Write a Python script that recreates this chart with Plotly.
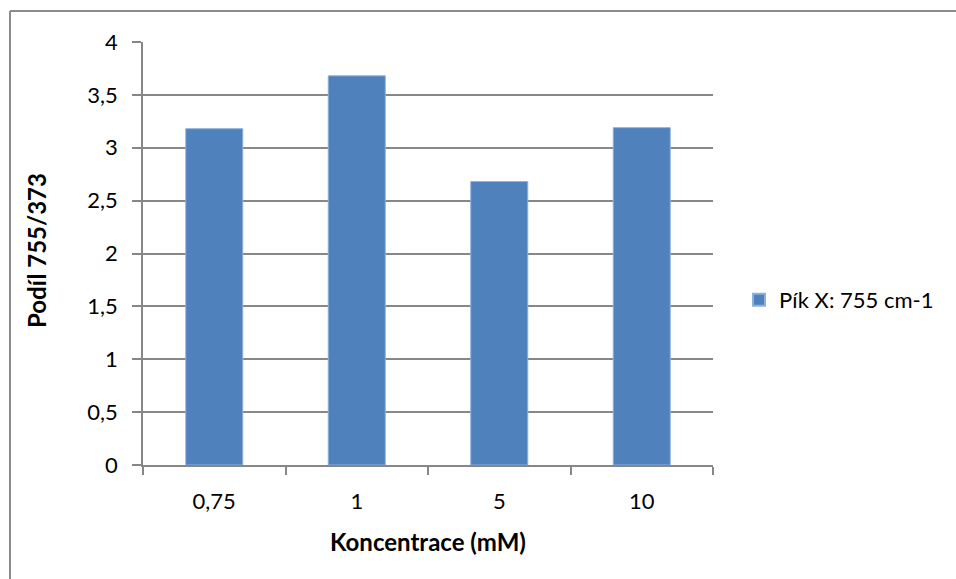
import plotly.graph_objects as go

categories = ["0,75", "1", "5", "10"]
values = [3.18, 3.68, 2.68, 3.19]
series_name = "Pík X: 755 cm-1"
y_ticks = [0, 0.5, 1, 1.5, 2, 2.5, 3, 3.5, 4]
x_title = "Koncentrace (mM)"
y_title = "Podíl 755/373"

FONT = "Lato"
GRID = "#878787"

fig = go.Figure()
fig.add_trace(go.Bar(
    x=categories, y=values, name=series_name,
    marker=dict(color="#4F81BD", line=dict(color="#8FB0DA", width=1)),
    showlegend=True,
))

L, R, T, B = 143, 243, 42, 114
W, H = 956, 579
pw, ph = W - L - R, H - T - B

def px_to_paper_x(px):
    return (px - L) / pw

def px_to_paper_y(py):
    return (H - B - py) / ph

bx = px_to_paper_x(10)
by = px_to_paper_y(11)

fig.update_layout(
    width=W, height=H,
    margin=dict(l=L, r=R, t=T, b=B, pad=0),
    paper_bgcolor="white", plot_bgcolor="white",
    separators=", ",
    bargap=0.6,
    font=dict(family=FONT, size=22, color="black"),
    showlegend=True,
    legend=dict(x=px_to_paper_x(739), y=px_to_paper_y(300), xanchor="left", yanchor="middle",
                font=dict(family=FONT, size=22, color="black"),
                itemsizing="constant", bgcolor="rgba(0,0,0,0)"),
    xaxis=dict(type="category", showline=True, linecolor=GRID, linewidth=1.5,
               ticks="outside", ticklen=8, tickcolor=GRID, tickwidth=1.5,
               tickson="boundaries", showgrid=False, ticklabelstandoff=16,
               tickfont=dict(family=FONT, size=22),
               fixedrange=True),
    yaxis=dict(range=[0, 4], tickvals=y_ticks, showline=True, linecolor=GRID, linewidth=1.5,
               ticks="outside", ticklen=9, tickcolor=GRID, tickwidth=1.5,
               showgrid=True, gridcolor=GRID, gridwidth=1.5, zeroline=False,
               tickfont=dict(family=FONT, size=22), ticklabelstandoff=10,
               fixedrange=True),
    annotations=[
        dict(text="<b>" + x_title + "</b>", xref="paper", yref="paper",
             x=px_to_paper_x(428), y=px_to_paper_y(541), xanchor="center", yanchor="middle",
             showarrow=False, font=dict(family=FONT, size=24)),
        dict(text="<b>" + y_title + "</b>", xref="paper", yref="paper", textangle=-90,
             x=px_to_paper_x(36), y=px_to_paper_y(251), xanchor="center", yanchor="middle",
             showarrow=False, font=dict(family=FONT, size=24)),
    ],
    shapes=[
        dict(type="line", xref="paper", yref="paper", x0=bx, x1=bx, y0=by, y1=-0.35,
             line=dict(color="#8C8C8C", width=2)),
        dict(type="line", xref="paper", yref="paper", x0=bx, x1=1.5, y0=by, y1=by,
             line=dict(color="#8C8C8C", width=2)),
    ],
)

fig.write_html("out.html", config={"displayModeBar": False},
               post_script="document.body.style.margin='0';")
